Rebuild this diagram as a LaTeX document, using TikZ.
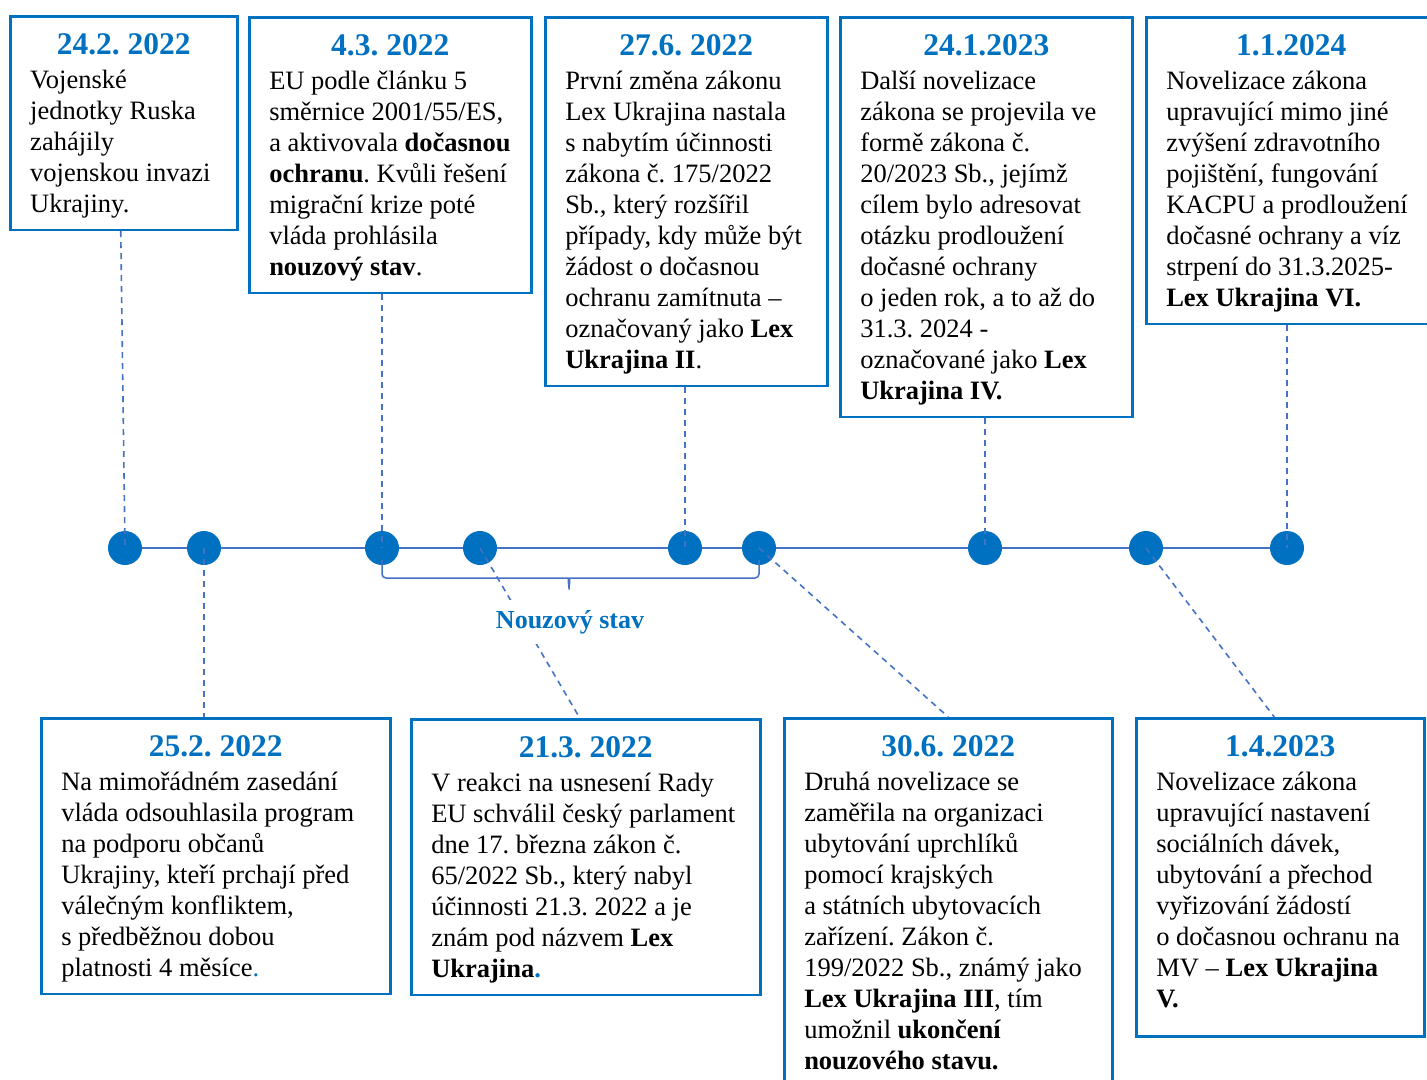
\documentclass[tikz,border=0pt]{standalone}
\usepackage{fontspec}
\setmainfont{Liberation Serif}
\usepackage{xcolor}
\usepackage{tikz}
\usetikzlibrary{positioning}

\definecolor{tlblue}{RGB}{0,112,192}
\definecolor{tlline}{RGB}{68,114,196}

\frenchspacing
\newcommand{\datum}[2]{\makebox[#1][c]{\rule{0pt}{26pt}\fontsize{31.5}{35}\selectfont\bfseries\color{tlblue}#2}\\[3pt]}

\begin{document}
\begin{tikzpicture}[x=1pt, y=-1pt,
    event/.style={draw=tlblue, line width=2.5pt, anchor=north west, align=left,
        inner xsep=20pt, inner ysep=12pt, font=\fontsize{26.5}{31}\selectfont},
    dot/.style={circle, fill=tlblue, minimum size=34pt, inner sep=0pt},
    axis/.style={draw=tlline, line width=2pt},
    link/.style={draw=tlline, line width=1.6pt, dash pattern=on 6pt off 5pt}]
    \useasboundingbox (0,0) rectangle (1427,1079);

    % upper events
    \node[event] (b1) at (9,15) {\datum{187pt}{24.2. 2022}
        Vojenské\\ jednotky Ruska\\ zahájily\\ vojenskou invazi\\ Ukrajiny.};
    \node[event] (b2) at (248,16) {\datum{242pt}{4.3. 2022}
        EU podle článku 5\\ směrnice 2001/55/ES,\\ a aktivovala \textbf{dočasnou}\\
        \textbf{ochranu}. Kvůli řešení\\ migrační krize poté\\ vláda prohlásila\\
        \textbf{nouzový stav}.};
    \node[event] (b3) at (544,16) {\datum{242pt}{27.6. 2022}
        První změna zákonu\\ Lex Ukrajina nastala\\ s nabytím účinnosti\\
        zákona č. 175/2022\\ Sb., který rozšířil\\ případy, kdy může být\\
        žádost o dočasnou\\ ochranu zamítnuta --\\ označovaný jako \textbf{Lex}\\
        \textbf{Ukrajina II}.};
    \node[event] (b4) at (839,16) {\datum{252pt}{24.1.2023}
        Další novelizace\\ zákona se projevila ve\\ formě zákona č.\\
        20/2023 Sb., jejímž\\ cílem bylo adresovat\\ otázku prodloužení\\
        dočasné ochrany\\ o jeden rok, a to až do\\ 31.3. 2024 -\\
        označované jako \textbf{Lex}\\ \textbf{Ukrajina IV.}};
    \node[event] (b5) at (1145,16) {\datum{250pt}{1.1.2024}
        Novelizace zákona\\ upravující mimo jiné\\ zvýšení zdravotního\\
        pojištění, fungování\\ KACPU a prodloužení\\ dočasné ochrany a víz\\
        strpení do 31.3.2025-\\ \textbf{Lex Ukrajina VI.}};

    % lower events
    \node[event] (b6) at (40,717) {\datum{309pt}{25.2. 2022}
        Na mimořádném zasedání\\ vláda odsouhlasila program\\ na podporu občanů\\
        Ukrajiny, kteří prchají před\\ válečným konfliktem,\\ s předběžnou dobou\\
        platnosti 4 měsíce{\color{tlblue}.}};
    \node[event] (b7) at (410,718) {\datum{309pt}{21.3. 2022}
        V reakci na usnesení Rady\\ EU schválil český parlament\\
        dne 17. března zákon č.\\ 65/2022 Sb., který nabyl\\
        účinnosti 21.3. 2022 a je\\ znám pod názvem \textbf{Lex}\\
        \textbf{Ukrajina{\color{tlblue}.}}};
    \node[event] (b8) at (783,717) {\datum{288pt}{30.6. 2022}
        Druhá novelizace se\\ zaměřila na organizaci\\ ubytování uprchlíků\\
        pomocí krajských\\ a státních ubytovacích\\ zařízení. Zákon č.\\
        199/2022 Sb., známý jako\\ \textbf{Lex Ukrajina III}, tím\\
        umožnil \textbf{ukončení}\\ \textbf{nouzového stavu.}};
    \node[event] (b9) at (1135,717) {\datum{248pt}{1.4.2023}
        Novelizace zákona\\ upravující nastavení\\ sociálních dávek,\\
        ubytování a přechod\\ vyřizování žádostí\\ o dočasnou ochranu na\\
        MV -- \textbf{Lex Ukrajina}\\ \textbf{V.}\rule[-17pt]{0pt}{1pt}};

    % timeline
    \foreach \i/\x in {1/125, 2/204, 3/382, 4/480, 5/685, 6/759, 7/985, 8/1146, 9/1287}
        \node[dot] (d\i) at (\x,548) {};
    \foreach \i/\j in {1/2, 2/3, 3/4, 4/5, 5/6, 6/7, 7/8, 8/9}
        \draw[axis] (d\i) -- (d\j);

    % connectors
    \draw[link] ([xshift=-3pt]b1.south) -- (d1.center);
    \foreach \b/\d in {2/3, 3/5, 4/7, 5/9}
        \draw[link] (d\d.center |- b\b.south) -- (d\d.center);
    \draw[link] (d2.center) -- (d2.center |- b6.north);
    \draw[link] (d4.center) -- ([xshift=-6pt]b7.north);
    \draw[link] (d6.center) -- (b8.north);
    \draw[link] (d8.center) -- ([xshift=-6pt]b9.north);

    % emergency period
    \draw[axis, line width=1.5pt, rounded corners=4pt] (382,560) -- (382,578) -- (565,578)
        to[out=0, in=90] (569,592) to[out=90, in=180] (573,578) -- (759,578) -- (759,560);
    \node[fill=white, inner sep=10pt, text=tlblue, font=\fontsize{26}{30}\selectfont\bfseries]
        (stav) at (570,622) {Nouzový stav};
\end{tikzpicture}
\end{document}
